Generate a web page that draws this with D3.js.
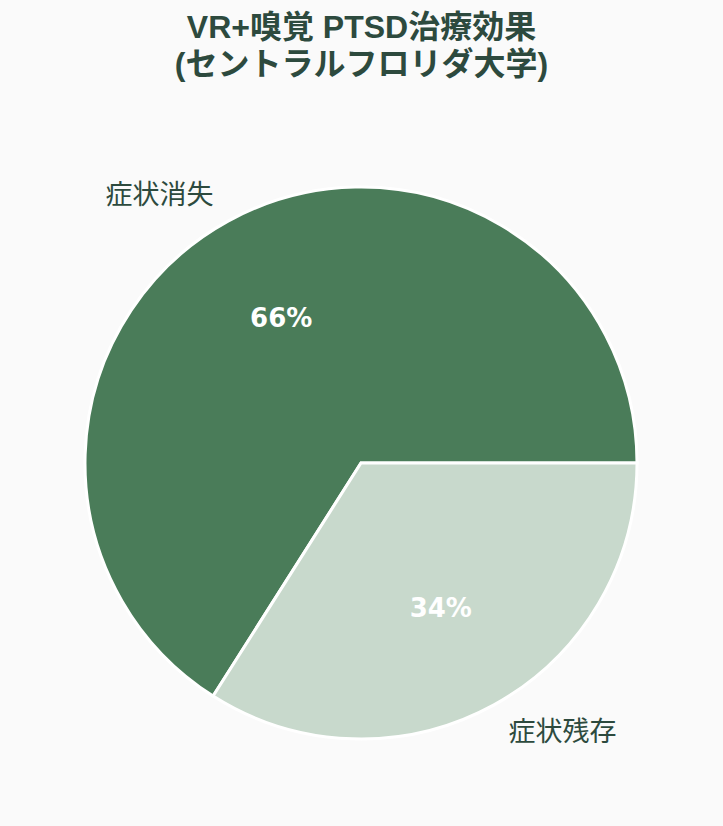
<!DOCTYPE html>
<html>
<head>
<meta charset="utf-8">
<script src="https://cdn.jsdelivr.net/npm/d3@7"></script>
<style>
  html, body { margin: 0; padding: 0; background: #fafafa; }
  svg { display: block; }
</style>
</head>
<body>
<div id="canvas"></div>
<script>
// data
var categories = ["症状消失", "症状残存"];
var values = [66, 34];
var colors = ["#4a7c59", "#c8d9cc"];
var titleLines = ["VR+嗅覚 PTSD治療効果", "(セントラルフロリダ大学)"];

var width = 723, height = 826;
var cx = 361, cy = 463, radius = 276;

var data = categories.map(function(c, i) { return {name: c, value: values[i], color: colors[i]}; });

var svg = d3.select("#canvas")
  .append("svg")
    .attr("width", width)
    .attr("height", height);

svg.append("rect")
  .attr("width", width)
  .attr("height", height)
  .attr("fill", "#fafafa");

// title
svg.append("g")
  .selectAll("text")
  .data(titleLines)
  .enter()
  .append("text")
    .attr("x", width / 2)
    .attr("y", function(d, i) { return 38 + i * 37; })
    .attr("text-anchor", "middle")
    .attr("font-family", "'Liberation Sans', 'Noto Sans CJK JP', sans-serif")
    .attr("font-weight", "bold")
    .attr("font-size", 32)
    .attr("fill", "#2d4a3e")
    .text(function(d) { return d; });

// pie: first slice ends at 3 o'clock, drawn counterclockwise
var pie = d3.pie()
  .sort(null)
  .value(function(d) { return d.value; })
  .startAngle(Math.PI / 2)
  .endAngle(Math.PI / 2 - 2 * Math.PI);

var arc = d3.arc().innerRadius(0).outerRadius(radius);
var labelArc = d3.arc().innerRadius(radius * 0.6).outerRadius(radius * 0.6);
var outerArc = d3.arc().innerRadius(radius * 1.11).outerRadius(radius * 1.11);

var g = svg.append("g")
  .attr("transform", "translate(" + cx + "," + cy + ")");

var arcs = pie(data);

g.selectAll("path")
  .data(arcs)
  .enter()
  .append("path")
    .attr("d", arc)
    .attr("fill", function(d) { return d.data.color; })
    .attr("stroke", "#ffffff")
    .attr("stroke-width", 3);

// percentage labels
g.selectAll("text.pct")
  .data(arcs)
  .enter()
  .append("text")
    .attr("class", "pct")
    .attr("transform", function(d) { return "translate(" + labelArc.centroid(d) + ")"; })
    .attr("text-anchor", "middle")
    .attr("dy", "0.35em")
    .attr("font-family", "'DejaVu Sans', sans-serif")
    .attr("font-weight", "bold")
    .attr("font-size", 26)
    .attr("fill", "#ffffff")
    .text(function(d) { return d.data.value + "%"; });

// outside category labels
g.selectAll("text.cat")
  .data(arcs)
  .enter()
  .append("text")
    .attr("class", "cat")
    .attr("transform", function(d) { return "translate(" + outerArc.centroid(d) + ")"; })
    .attr("text-anchor", function(d) {
      var mid = (d.startAngle + d.endAngle) / 2;
      return Math.sin(mid) < 0 ? "end" : "start";
    })
    .attr("dy", "0.35em")
    .attr("font-family", "'Noto Sans CJK JP', sans-serif")
    .attr("font-size", 27)
    .attr("fill", "#2d4a3e")
    .text(function(d) { return d.data.name; });
</script>
</body>
</html>
